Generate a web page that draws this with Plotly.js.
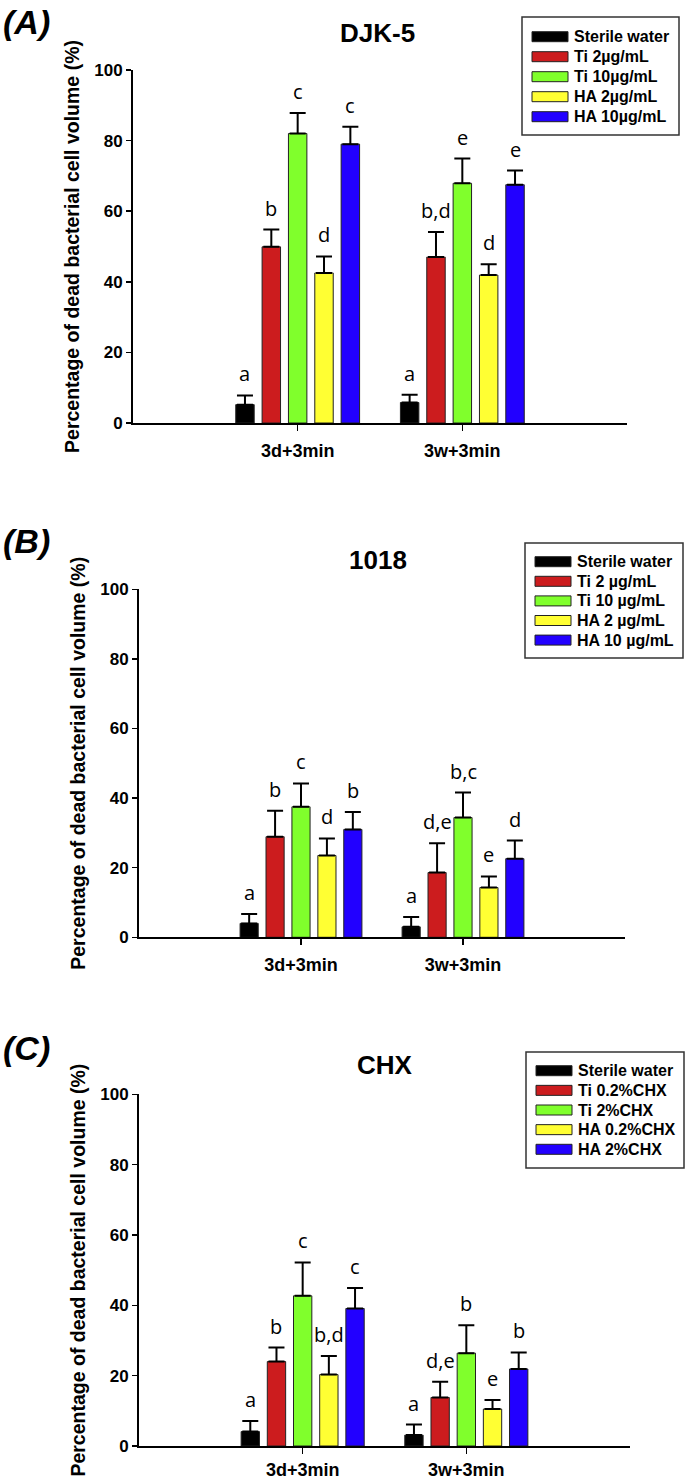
<!DOCTYPE html>
<html><head><meta charset="utf-8">
<script src="https://cdn.plot.ly/plotly-3.0.1.min.js"></script>
<style>html,body{margin:0;padding:0;background:#fff}</style>
</head><body><div id="chart" style="width:685px;height:1480px"></div>
<script>
// ---- data ----
const categories = ['3d+3min', '3w+3min'];
const seriesColors = ['#000000', '#CC1C1E', '#80FF2C', '#FFFF33', '#2200FF'];
const yTickVals = [0, 20, 40, 60, 80, 100];
const yTitle = 'Percentage of dead bacterial cell volume (%)';

const djkTitle = 'DJK-5';
const djkNames = ['Sterile water', 'Ti 2µg/mL', 'Ti 10µg/mL', 'HA 2µg/mL', 'HA 10µg/mL'];
const djkMeans = [[5.2, 5.8], [49.9, 47.0], [82.0, 67.9], [42.5, 41.9], [79.0, 67.5]];
const djkErrors = [[2.6, 2.2], [4.9, 7.1], [5.8, 7.0], [4.7, 3.1], [4.9, 4.0]];
const djkLetters = [['a', 'a'], ['b', 'b,d'], ['c', 'e'], ['d', 'd'], ['c', 'e']];

const p1018Title = '1018';
const p1018Names = ['Sterile water', 'Ti 2 µg/mL', 'Ti 10 µg/mL', 'HA 2 µg/mL', 'HA 10 µg/mL'];
const p1018Means = [[4.0, 3.0], [28.9, 18.6], [37.5, 34.4], [23.5, 14.3], [31.0, 22.6]];
const p1018Errors = [[2.7, 2.8], [7.5, 8.4], [6.7, 7.2], [4.9, 3.2], [5.0, 5.2]];
const p1018Letters = [['a', 'a'], ['b', 'd,e'], ['c', 'b,c'], ['d', 'e'], ['b', 'd']];

const chxTitle = 'CHX';
const chxNames = ['Sterile water', 'Ti 0.2%CHX', 'Ti 2%CHX', 'HA 0.2%CHX', 'HA 2%CHX'];
const chxMeans = [[4.1, 3.1], [24.0, 13.8], [42.7, 26.4], [20.3, 10.5], [39.1, 21.9]];
const chxErrors = [[3.0, 3.0], [4.0, 4.5], [9.5, 7.9], [5.3, 2.6], [5.8, 4.7]];
const chxLetters = [['a', 'a'], ['b', 'd,e'], ['c', 'b'], ['b,d', 'e'], ['c', 'b']];

const panelTags = ['(A)', '(B)', '(C)'];

// ---- layout helpers (pixel -> paper) ----
const W = 685, H = 1480;
const px = x => x / W;
const py = y => 1 - y / H;

const panels = [
  {title: djkTitle, names: djkNames, means: djkMeans, errs: djkErrors, letters: djkLetters,
   xPix: [133, 627], yPix: [423, 70], titlePos: [377, 33], tagY: 22, standoff: 4,
   legBox: [522, 17, 679, 135], legRow0: 36.7, legStep: 20},
  {title: p1018Title, names: p1018Names, means: p1018Means, errs: p1018Errors, letters: p1018Letters,
   xPix: [139, 625], yPix: [937.3, 589.3], titlePos: [378, 560], tagY: 541, standoff: 4,
   legBox: [525, 543, 683, 658], legRow0: 561.7, legStep: 19.6},
  {title: chxTitle, names: chxNames, means: chxMeans, errs: chxErrors, letters: chxLetters,
   xPix: [139, 630], yPix: [1446, 1094.3], titlePos: [385, 1065], tagY: 1048, standoff: 0,
   legBox: [526, 1052, 684, 1168], legRow0: 1070.7, legStep: 19.65}
];

const BARGAP = 0.2, NSER = 5;
const slot = (1 - BARGAP) / NSER;
const FONT = 'Liberation Sans, Arial, sans-serif';

const traces = [];
const annotations = [];
const shapes = [];
const layout = {
  width: W, height: H,
  margin: {l: 0, r: 0, t: 0, b: 0},
  paper_bgcolor: '#fff', plot_bgcolor: 'rgba(0,0,0,0)',
  showlegend: false,
  barmode: 'group', bargap: BARGAP, bargroupgap: 0.3,
  font: {family: FONT, color: '#000'}
};

panels.forEach((p, k) => {
  const sfx = k === 0 ? '' : String(k + 1);
  const xa = 'x' + sfx, ya = 'y' + sfx;
  layout['xaxis' + sfx] = {
    domain: [px(p.xPix[0]), px(p.xPix[1])], anchor: ya,
    type: 'category', range: [-1, 2],
    showline: true, linecolor: '#000', linewidth: 2,
    ticks: 'outside', ticklen: 6, tickwidth: 1.5, tickcolor: '#000',
    showgrid: false, zeroline: false, ticklabelstandoff: p.standoff,
    tickfont: {size: 18, weight: 'bold', family: FONT},
    fixedrange: true
  };
  layout['yaxis' + sfx] = {
    domain: [py(p.yPix[0]), py(p.yPix[1])], anchor: xa,
    range: [0, 100], tickvals: yTickVals,
    showline: true, linecolor: '#000', linewidth: 2,
    ticks: 'outside', ticklen: 5, tickwidth: 1.5, tickcolor: '#000',
    showgrid: false, zeroline: false,
    tickfont: {size: 17, weight: 'bold', family: FONT},
    title: {text: yTitle, standoff: 9,
            font: {size: 19.5, weight: 'bold', family: FONT}},
    fixedrange: true
  };

  p.names.forEach((name, i) => {
    traces.push({
      type: 'bar', name: name, x: categories, y: p.means[i],
      xaxis: xa, yaxis: ya,
      marker: {color: seriesColors[i], line: {color: '#222', width: 1}},
      error_y: {type: 'data', array: p.errs[i], arrayminus: p.means[i].map(() => 0),
                symmetric: false, color: '#000', thickness: 2, width: 8},
      hoverinfo: 'skip'
    });
    categories.forEach((c, j) => {
      annotations.push({
        xref: xa, yref: ya, x: j + (i - (NSER - 1) / 2) * slot,
        y: p.means[i][j] + p.errs[i][j],
        text: p.letters[i][j], showarrow: false,
        xanchor: 'center', yanchor: 'bottom', yshift: 6,
        font: {size: 20, family: 'Open Sans, sans-serif', color: '#000'}
      });
    });
    // legend entry
    const ry = p.legRow0 + i * p.legStep;
    shapes.push({type: 'rect', xref: 'paper', yref: 'paper',
      x0: px(p.legBox[0] + 10), x1: px(p.legBox[0] + 46),
      y0: py(ry + 5), y1: py(ry - 5),
      fillcolor: seriesColors[i], line: {color: '#222', width: 1}});
    annotations.push({xref: 'paper', yref: 'paper', x: px(p.legBox[0] + 50), y: py(ry),
      text: name, showarrow: false, xanchor: 'left', yanchor: 'middle',
      font: {size: 16, weight: 'bold', family: FONT}});
  });

  shapes.push({type: 'rect', xref: 'paper', yref: 'paper',
    x0: px(p.legBox[0]), x1: px(p.legBox[2]), y0: py(p.legBox[3]), y1: py(p.legBox[1]),
    line: {color: '#333', width: 1.5}, fillcolor: 'rgba(0,0,0,0)'});

  annotations.push({xref: 'paper', yref: 'paper', x: px(p.titlePos[0]), y: py(p.titlePos[1]),
    text: p.title, showarrow: false, xanchor: 'center', yanchor: 'middle',
    font: {size: 26, weight: 'bold', family: FONT}});
  annotations.push({xref: 'paper', yref: 'paper', x: px(1), y: py(p.tagY),
    text: panelTags[k], showarrow: false, xanchor: 'left', yanchor: 'middle',
    font: {size: 34, weight: 'bold', style: 'italic', family: FONT}});
});

layout.annotations = annotations;
layout.shapes = shapes;

Plotly.newPlot('chart', traces, layout, {staticPlot: true, displayModeBar: false});
</script></body></html>
